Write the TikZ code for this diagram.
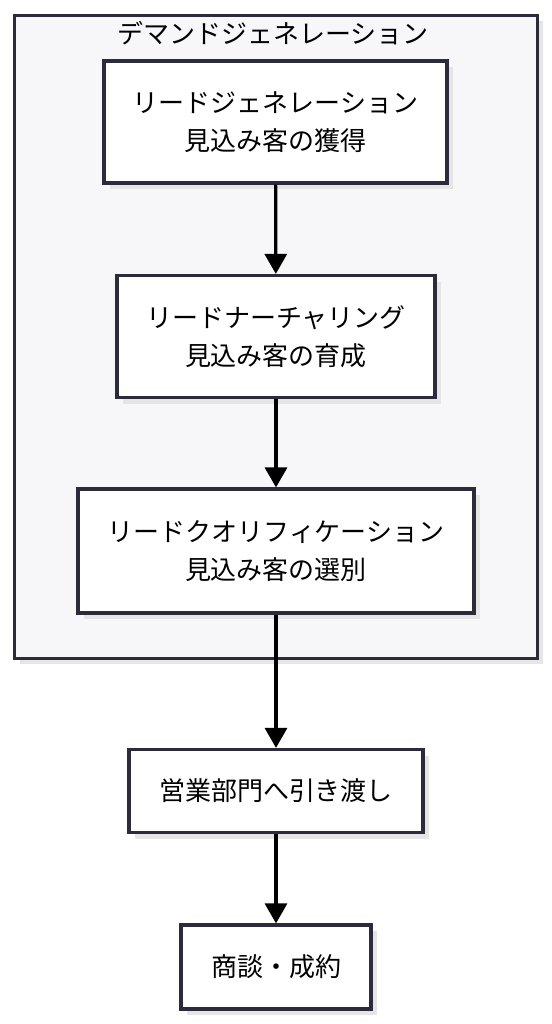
\documentclass[tikz,border=0pt]{standalone}
\usepackage{fontspec}
\setmainfont{Noto Sans CJK JP}
\usetikzlibrary{arrows.meta,shadows}

\definecolor{edge}{HTML}{2B2B3B}
\definecolor{panel}{HTML}{F7F7FA}

\begin{document}
\begin{tikzpicture}[
  x=0.5pt, y=-0.5pt,
  proc/.style={draw=edge, line width=1.6pt, fill=white, align=center,
    font=\fontsize{13pt}{19pt}\selectfont, inner sep=0pt,
    drop shadow={shadow xshift=3pt, shadow yshift=-3pt, fill=black!10, opacity=1}},
  flow/.style={-{Triangle[length=10pt,width=11pt]}, line width=1.6pt, black},
]
  \useasboundingbox (0,0) rectangle (552,1024);

  % cluster
  \node[draw=edge, line width=1.5pt, fill=panel, minimum width=261.5pt, minimum height=321.5pt,
    drop shadow={shadow xshift=3pt, shadow yshift=-3pt, fill=black!10, opacity=1}]
    (demand) at (275.5,336.5) {};
  \node[font=\fontsize{13pt}{15pt}\selectfont] (title) at (273,33) {デマンドジェネレーション};

  \node[proc, minimum width=171.5pt, minimum height=61pt] (gen) at (275.5,122)
    {リードジェネレーション\\見込み客の獲得};
  \node[proc, minimum width=159pt, minimum height=61pt] (nur) at (276,336.5)
    {リードナーチャリング\\見込み客の育成};
  \node[proc, minimum width=198pt, minimum height=62pt] (qual) at (276,551)
    {リードクオリフィケーション\\見込み客の選別};

  \node[proc, minimum width=147pt, minimum height=41.5pt] (hand) at (276,791)
    {営業部門へ引き渡し};
  \node[proc, minimum width=95pt, minimum height=42pt] (deal) at (276,967)
    {商談・成約};

  \draw[flow] (gen) -- (nur);
  \draw[flow] (nur) -- (qual);
  \draw[flow] (qual) -- (hand);
  \draw[flow] (hand) -- (deal);
\end{tikzpicture}
\end{document}
